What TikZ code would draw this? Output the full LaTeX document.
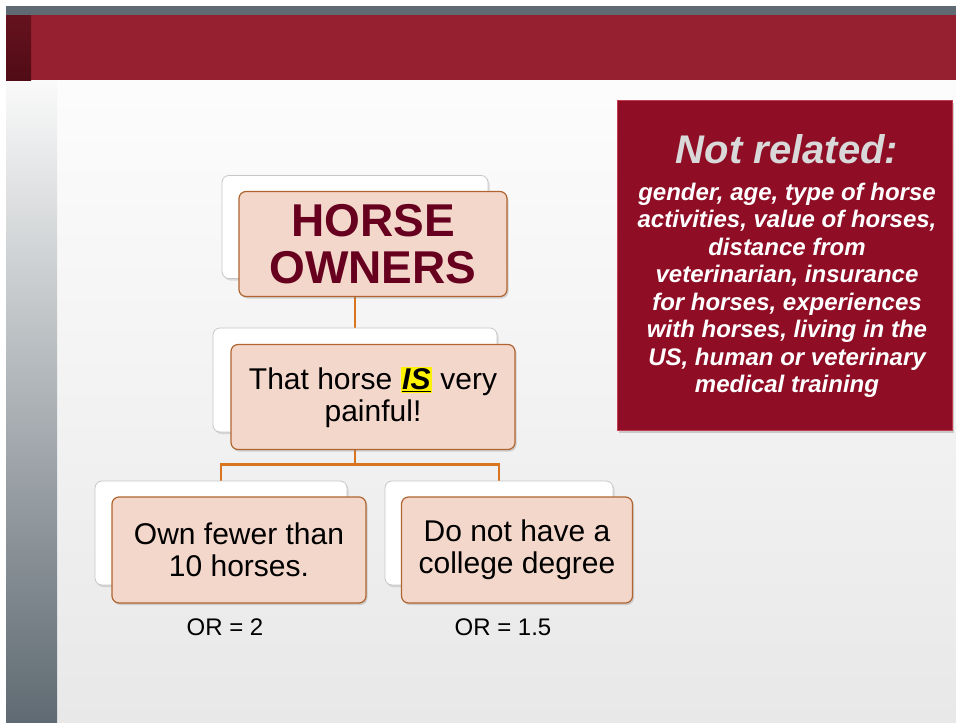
\documentclass[tikz,border=0pt]{standalone}
\usepackage{fontspec}
\setmainfont{Liberation Sans}
\usetikzlibrary{positioning, shadows, backgrounds, calc}

\definecolor{slidegrey}{RGB}{95,106,114}
\definecolor{slidered}{RGB}{151,32,48}
\definecolor{darkred}{RGB}{80,12,22}
\definecolor{boxpeach}{RGB}{244,215,203}
\definecolor{boxedge}{RGB}{176,100,48}
\definecolor{linkorange}{RGB}{217,116,31}
\definecolor{ownerred}{RGB}{102,0,30}
\definecolor{panelred}{RGB}{143,14,37}
\definecolor{paneledge}{RGB}{196,60,80}
\definecolor{titlegrey}{RGB}{217,217,217}

\begin{document}
\begin{tikzpicture}[x=1pt, y=-1pt,
backbox/.style={draw=black!22, fill=white, rounded corners=7pt, line width=0.8pt, inner sep=0pt, drop shadow={shadow xshift=1.5pt, shadow yshift=-2pt, opacity=0.25}},
frontbox/.style={draw=boxedge, fill=boxpeach, rounded corners=7pt, line width=1.2pt, inner sep=0pt, align=center, font=\fontsize{30}{32}\selectfont, drop shadow={shadow xshift=1.5pt, shadow yshift=-2pt, opacity=0.3}},
connector/.style={draw=linkorange, line width=2.4pt},
orlabel/.style={inner sep=0pt, font=\fontsize{24}{26}\selectfont},
panel/.style={draw=paneledge, fill=panelred, line width=1pt, inner sep=0pt, drop shadow={shadow xshift=2pt, shadow yshift=-2.5pt, opacity=0.35}},
paneltitle/.style={inner sep=0pt, text=titlegrey, font=\fontsize{40}{44}\selectfont\bfseries\itshape},
paneltext/.style={inner sep=0pt, text=white, align=center, font=\fontsize{24}{27.5}\selectfont\bfseries\itshape}]
\useasboundingbox (0,0) rectangle (956,723);
\begin{scope}[on background layer]
\shade[top color=black!1, bottom color=black!9] (57,80) rectangle (956,723);
\shade[top color=black!2, bottom color=slidegrey] (6,80) rectangle (57,723);
\fill[slidegrey] (6,6) rectangle (956,15);
\fill[slidered] (6,15) rectangle (956,80);
\shade[top color=darkred!70!slidered, bottom color=darkred] (6,15) rectangle (31,80);
\end{scope}

\node[backbox, minimum width=266pt, minimum height=103pt] (ownersback) at (355,227) {};
\node[frontbox, minimum width=268pt, minimum height=105pt, text=ownerred, font=\fontsize{46}{47}\selectfont\bfseries] (owners) at ([shift={(18,17)}]ownersback) {HORSE\\OWNERS};

\node[backbox, minimum width=284pt, minimum height=104pt] (painback) at (355,380) {};
\node[frontbox, minimum width=284pt, minimum height=105pt] (pain) at ([shift={(18,17)}]painback) {That horse {\setlength\fboxsep{1.5pt}\colorbox{yellow}{\bfseries\itshape\underline{IS}}} very\\painful!};

\node[backbox, minimum width=252pt, minimum height=104pt] (fewerback) at (221,533) {};
\node[frontbox, minimum width=254pt, minimum height=106pt] (fewer) at ([shift={(18,17)}]fewerback) {Own fewer than\\10 horses.};

\node[backbox, minimum width=228pt, minimum height=104pt] (degreeback) at (499,533) {};
\node[frontbox, minimum width=231pt, minimum height=106pt] (degree) at ([shift={(18,17)}]degreeback) {Do not have a\\college degree};

\node[orlabel, below=15pt of fewer, xshift=-14pt] (orfewer) {OR = 2};
\node[orlabel, below=15pt of degree, xshift=-14pt] (ordegree) {OR = 1.5};

\begin{scope}[on background layer]
\draw[connector] (ownersback.south) -- (painback.north);
\coordinate (fork) at ([yshift=-32pt]painback.south);
\draw[connector] (painback.south) -- (fork) -| (fewerback.north);
\draw[connector] (fork) -| (degreeback.north);
\end{scope}

\node[panel, minimum width=335pt, minimum height=330pt] (notrelated) at (784.5,265) {};
\node[paneltitle, anchor=north] (nrtitle) at (787,134) {Not related:};
\node[paneltext, below=19pt of nrtitle] (nrlist) {gender, age, type of horse\\activities, value of horses,\\distance from\\veterinarian, insurance\\for horses, experiences\\with horses, living in the\\US, human or veterinary\\medical training};
\end{tikzpicture}
\end{document}
